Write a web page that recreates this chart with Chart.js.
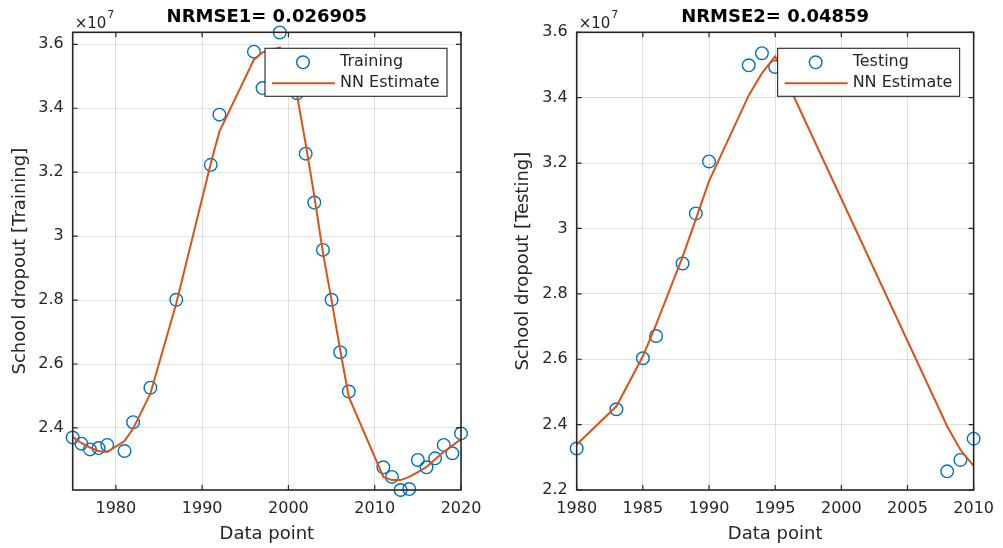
<!DOCTYPE html>
<html>
<head>
<meta charset="utf-8">
<title>NN estimate - school dropout</title>
<script src="https://cdn.jsdelivr.net/npm/chart.js@4.4.0/dist/chart.umd.min.js"></script>
<style>
  html, body { margin: 0; padding: 0; background: #fff; }
  #wrap { position: relative; width: 1003px; height: 548px; }
  .panel { position: absolute; top: 0; height: 548px; }
  #leftPanel { left: 0; width: 500px; }
  #rightPanel { left: 500px; width: 503px; }
</style>
</head>
<body>
<div id="wrap">
  <div class="panel" id="leftPanel"><canvas id="chartTrain"></canvas></div>
  <div class="panel" id="rightPanel"><canvas id="chartTest"></canvas></div>
</div>
<script>
// values in units of 10^7 (as on the axes)
const trainYears = [1975, 1976, 1977, 1978, 1979, 1981, 1982, 1984, 1987, 1991, 1992, 1996, 1997, 1999, 2001,
    2002, 2003, 2004, 2005, 2006, 2007, 2011, 2012, 2013, 2014, 2015, 2016, 2017, 2018, 2019, 2020];
const trainActual = [2.370, 2.351, 2.333, 2.337, 2.347, 2.328, 2.418, 2.526, 2.801, 3.223, 3.380, 3.577, 3.463, 3.637, 3.447,
    3.258, 3.105, 2.957, 2.801, 2.637, 2.514, 2.277, 2.247, 2.206, 2.209, 2.300, 2.277, 2.305, 2.347, 2.321, 2.383];
const trainNN = [2.372, 2.353, 2.339, 2.328, 2.325, 2.359, 2.398, 2.507, 2.789, 3.227, 3.327, 3.552, 3.575, 3.590, 3.440,
    3.288, 3.125, 2.948, 2.799, 2.643, 2.497, 2.247, 2.237, 2.237, 2.247, 2.262, 2.278, 2.302, 2.325, 2.345, 2.365];

const testYears = [1980, 1983, 1985, 1986, 1988, 1989, 1990, 1993, 1994, 1995, 2008, 2009, 2010];
const testActual = [2.327, 2.447, 2.603, 2.671, 2.893, 3.046, 3.205, 3.499, 3.536, 3.494, 2.257, 2.292, 2.357];
const testNN = [2.339, 2.456, 2.609, 2.706, 2.913, 3.028, 3.145, 3.407, 3.475, 3.526, 2.395, 2.323, 2.274];

const trainXTicks = [1980, 1990, 2000, 2010, 2020];
const trainYTicks = [2.4, 2.6, 2.8, 3, 3.2, 3.4, 3.6];
const testXTicks = [1980, 1985, 1990, 1995, 2000, 2005, 2010];
const testYTicks = [2.2, 2.4, 2.6, 2.8, 3, 3.2, 3.4, 3.6];

const BLUE = '#0072BD';
const ORANGE = '#D95319';
const AXIS_COLOR = '#262626';
const GRID = 'rgba(38,38,38,0.14)';
const FONT = '"DejaVu Sans", sans-serif';

// MATLAB style box with inward ticks and the x10^7 exponent
const boxPlugin = {
    id: 'matlabBox',
    afterDatasetsDraw(chart) {
        const { ctx, chartArea: a, scales } = chart;
        const tl = 5;
        ctx.save();
        ctx.strokeStyle = AXIS_COLOR;
        ctx.lineWidth = 1.2;
        ctx.beginPath();
        scales.x.ticks.forEach(t => {
            const px = scales.x.getPixelForValue(t.value);
            ctx.moveTo(px, a.bottom); ctx.lineTo(px, a.bottom - tl);
            ctx.moveTo(px, a.top); ctx.lineTo(px, a.top + tl);
        });
        scales.y.ticks.forEach(t => {
            const py = scales.y.getPixelForValue(t.value);
            ctx.moveTo(a.left, py); ctx.lineTo(a.left + tl, py);
            ctx.moveTo(a.right, py); ctx.lineTo(a.right - tl, py);
        });
        ctx.stroke();
        ctx.lineWidth = 1.6;
        ctx.strokeRect(a.left, a.top, a.right - a.left, a.bottom - a.top);

        ctx.fillStyle = AXIS_COLOR;
        ctx.textBaseline = 'alphabetic';
        ctx.textAlign = 'left';
        ctx.font = '15px ' + FONT;
        ctx.fillText('\u00d710', a.left + 2, a.top - 4);
        const w = ctx.measureText('\u00d710').width;
        ctx.font = '11px ' + FONT;
        ctx.fillText('7', a.left + 2 + w + 1, a.top - 14);
        ctx.restore();
    }
};

// legend box drawn inside the plot, top right
const legendPlugin = {
    id: 'boxLegend',
    afterDraw(chart) {
        const { ctx, chartArea: a } = chart;
        const w = 182, h = 48;
        const x0 = a.right - 14 - w, y0 = a.top + 16;
        const [pts, fit] = chart.data.datasets;
        ctx.save();
        ctx.fillStyle = '#fff';
        ctx.fillRect(x0, y0, w, h);
        ctx.strokeStyle = AXIS_COLOR;
        ctx.lineWidth = 1.1;
        ctx.strokeRect(x0, y0, w, h);

        ctx.beginPath();
        ctx.arc(x0 + 38, y0 + 14, pts.pointRadius, 0, Math.PI * 2);
        ctx.strokeStyle = pts.borderColor;
        ctx.lineWidth = pts.borderWidth;
        ctx.stroke();

        ctx.beginPath();
        ctx.moveTo(x0 + 7, y0 + 35); ctx.lineTo(x0 + 70, y0 + 35);
        ctx.strokeStyle = fit.borderColor;
        ctx.lineWidth = fit.borderWidth;
        ctx.stroke();

        ctx.fillStyle = AXIS_COLOR;
        ctx.font = '16px ' + FONT;
        ctx.textBaseline = 'middle';
        ctx.textAlign = 'left';
        ctx.fillText(pts.label, x0 + 75, y0 + 14);
        ctx.fillText(fit.label, x0 + 75, y0 + 35);
        ctx.restore();
    }
};

function buildChart(canvas, cfg) {
    return new Chart(canvas, {
        type: 'scatter',
        data: {
            datasets: [{
                label: cfg.pointLabel,
                data: cfg.years.map((x, i) => ({ x: x, y: cfg.actual[i] })),
                pointStyle: 'circle',
                pointRadius: 6.3,
                pointHoverRadius: 6.3,
                borderColor: BLUE,
                backgroundColor: 'rgba(0,0,0,0)',
                borderWidth: 1.4,
                clip: false,
                order: 1
            }, {
                label: 'NN Estimate',
                data: cfg.years.map((x, i) => ({ x: x, y: cfg.nn[i] })),
                showLine: true,
                pointRadius: 0,
                borderColor: ORANGE,
                backgroundColor: ORANGE,
                borderWidth: 2,
                tension: 0,
                clip: false,
                order: 0
            }]
        },
        options: {
            responsive: true,
            maintainAspectRatio: false,
            animation: false,
            layout: { padding: { left: 0, right: cfg.padRight, top: 0, bottom: 0 } },
            plugins: {
                legend: { display: false },
                tooltip: { enabled: false },
                title: {
                    display: true,
                    text: cfg.title,
                    fullSize: false,
                    color: '#000',
                    font: { family: FONT, size: 18, weight: 'bold' },
                    padding: { top: 6.5, bottom: 4.2 }
                }
            },
            scales: {
                x: {
                    type: 'linear',
                    min: cfg.xMin,
                    max: cfg.xMax,
                    afterBuildTicks: s => { s.ticks = cfg.xTicks.map(v => ({ value: v })); },
                    afterFit: s => { s.height = 58; },
                    grid: { color: GRID, drawTicks: false },
                    border: { display: false },
                    ticks: { color: AXIS_COLOR, font: { family: FONT, size: 16 }, padding: 9, maxRotation: 0, callback: v => String(v) },
                    title: { display: true, text: 'Data point', color: AXIS_COLOR, font: { family: FONT, size: 18 }, padding: { top: 0, bottom: 3 } }
                },
                y: {
                    type: 'linear',
                    min: cfg.yMin,
                    max: cfg.yMax,
                    afterBuildTicks: s => { s.ticks = cfg.yTicks.map(v => ({ value: v })); },
                    afterFit: s => { s.width = cfg.yAxisWidth; },
                    grid: { color: GRID, drawTicks: false },
                    border: { display: false },
                    ticks: { color: AXIS_COLOR, font: { family: FONT, size: 16 }, padding: 9, callback: v => String(v) },
                    title: { display: true, text: cfg.yTitle, color: AXIS_COLOR, font: { family: FONT, size: 18 }, padding: { top: cfg.yTitlePad, bottom: 0 } }
                }
            }
        },
        plugins: [boxPlugin, legendPlugin]
    });
}

buildChart(document.getElementById('chartTrain'), {
    title: 'NRMSE1= 0.026905',
    pointLabel: 'Training',
    yTitle: 'School dropout [Training]',
    years: trainYears, actual: trainActual, nn: trainNN,
    xTicks: trainXTicks, yTicks: trainYTicks,
    xMin: 1975, xMax: 2020, yMin: 2.206, yMax: 3.6375,
    padRight: 39, yAxisWidth: 72.7, yTitlePad: 10
});

buildChart(document.getElementById('chartTest'), {
    title: 'NRMSE2= 0.04859',
    pointLabel: 'Testing',
    yTitle: 'School dropout [Testing]',
    years: testYears, actual: testActual, nn: testNN,
    xTicks: testXTicks, yTicks: testYTicks,
    xMin: 1980, xMax: 2010, yMin: 2.2, yMax: 3.6,
    padRight: 25.3, yAxisWidth: 76.7, yTitlePad: 12.5
});
</script>
</body>
</html>
